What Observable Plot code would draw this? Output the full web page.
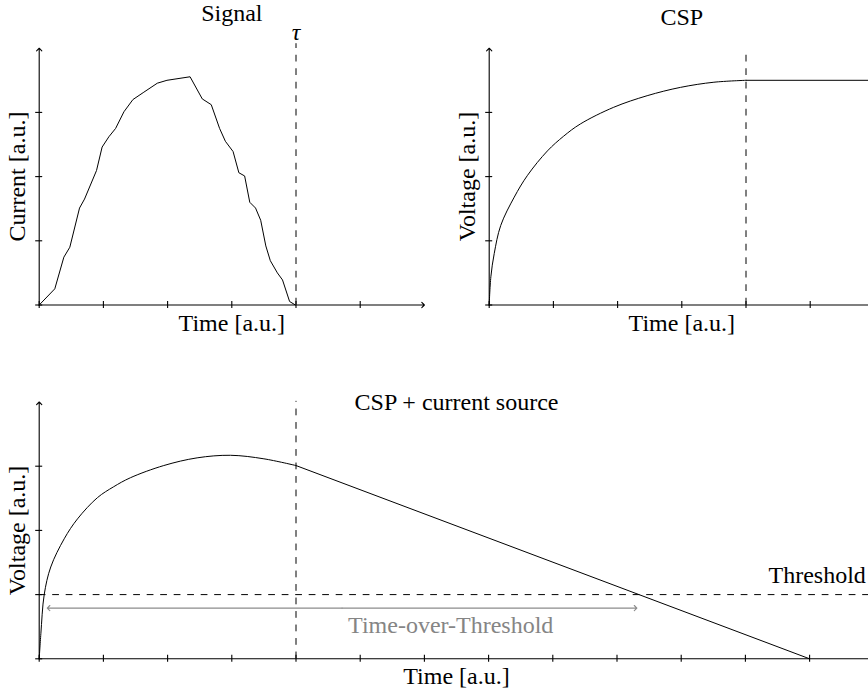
<!DOCTYPE html>
<html><head><meta charset="utf-8">
<script src="https://cdn.jsdelivr.net/npm/d3@7"></script>
<script src="https://cdn.jsdelivr.net/npm/@observablehq/plot@0.6"></script>
<style>
body{margin:0;background:#fff;}
#c{position:relative;width:868px;height:692px;overflow:hidden;background:#fff;}
</style></head><body><div id="c"></div>
<script>
// ---- data ----
const signalT = [0, 0.243, 0.384, 0.477, 0.628, 0.706, 0.893, 0.98, 1.085, 1.19, 1.32, 1.46, 1.63, 1.84, 1.99, 2.35, 2.54, 2.68, 2.81, 2.90, 3.02, 3.11, 3.20, 3.28, 3.37, 3.45, 3.53, 3.60, 3.71, 3.79, 3.90, 3.99];
const signalV = [0, 0.252, 0.745, 0.90, 1.51, 1.65, 2.095, 2.46, 2.62, 2.75, 3.01, 3.20, 3.315, 3.455, 3.50, 3.555, 3.21, 3.12, 2.75, 2.55, 2.39, 2.06, 2.01, 1.60, 1.51, 1.32, 0.92, 0.69, 0.50, 0.39, 0.055, 0];
const cspT = [0, 0.026, 0.078, 0.18, 0.39, 0.597, 0.907, 1.16, 1.42, 1.94, 2.46, 2.98, 3.50, 4.0];
const cspV = [0, 0.44, 0.80, 1.24, 1.68, 2.02, 2.40, 2.63, 2.82, 3.08, 3.26, 3.39, 3.47, 3.50];
const cspFlatT = [4.0, 6.0];
const cspFlatV = [3.50, 3.50];
const srcRiseT = [0, 0.026, 0.078, 0.18, 0.39, 0.597, 0.907, 1.16, 1.42, 1.94, 2.46, 2.98, 3.50, 4.0];
const srcRiseV = [0, 0.39, 1.0, 1.43, 1.87, 2.18, 2.51, 2.68, 2.82, 3.01, 3.13, 3.17, 3.115, 3.01];
const srcDecayT = [4.0, 12.0];
const srcDecayV = [3.01, 0];
const tau = 4;
const threshold = 1;
const totStart = 0.125, totEnd = 9.31, totLevel = 0.79;
const ticksX6 = [0, 1, 2, 3, 4, 5];
const ticksX13 = [0, 1, 2, 3, 4, 5, 6, 7, 8, 9, 10, 11, 12];
const ticksY = [0, 1, 2, 3];
const titles = ["Signal", "CSP", "CSP + current source"];
const xLabel = "Time [a.u.]";
const yLabels = ["Current [a.u.]", "Voltage [a.u.]", "Voltage [a.u.]"];

// ---- layout: one SVG, shared unit scales; panels shifted with dx / dy ----
const FONT = "serif";
const FS = 24;
const U = 64.2;
const P1 = {};
const P2 = {dx: 450};
const P3 = {dy: 353.8};
const zip = (a, b) => a.map((t, i) => ({t, v: b[i]}));
const arrowOpts = {headLength: 5, headAngle: 90, stroke: "black", strokeWidth: 1.1};

function axes(xMax, yMax, tx, off) {
  return [
    Plot.ruleX(tx, {x: d => d, y1: 0, y2: 0, insetTop: -3.5, insetBottom: -3.5, stroke: "black", strokeWidth: 1.1, ...off}),
    Plot.ruleY(ticksY, {y: d => d, x1: 0, x2: 0, insetLeft: -3.5, insetRight: -3.5, stroke: "black", strokeWidth: 1.1, ...off}),
    Plot.arrow([{x1: 0, y1: 0, x2: xMax, y2: 0}], {x1: "x1", y1: "y1", x2: "x2", y2: "y2", ...arrowOpts, ...off}),
    Plot.arrow([{x1: 0, y1: 0, x2: 0, y2: yMax}], {x1: "x1", y1: "y1", x2: "x2", y2: "y2", ...arrowOpts, ...off})
  ];
}
const txt = (s, x, y, off, extra = {}) => Plot.text([s], {x: () => x, y: () => y, text: d => d, fontSize: FS, fontFamily: FONT, fill: "black", lineAnchor: "bottom", ...off, ...extra});
const dashed = {stroke: "black", strokeWidth: 1, strokeDasharray: "6.75,6.75"};

const chart = Plot.plot({
  width: 868, height: 692, margin: 0,
  x: {domain: [0, 13], range: [38.7, 38.7 + 13 * U], axis: null},
  y: {domain: [0, 4], range: [304.5, 304.5 - 4 * U], axis: null},
  marks: [
    // Panel 1: Signal
    ...axes(6, 4, ticksX6, P1),
    Plot.ruleX([tau], {x: d => d, y1: 0, y2: 4.07, ...dashed, ...P1}),
    Plot.line(zip(signalT, signalV), {x: "t", y: "v", stroke: "black", strokeWidth: 1, ...P1}),
    txt(titles[0], 3, 4.416, P1),
    txt("τ", 4, 4.12, P1, {fontStyle: "italic"}),
    txt(xLabel, 3, -0.40, P1),
    txt(yLabels[0], -0.225, 2, P1, {rotate: -90}),

    // Panel 2: CSP
    ...axes(6, 4, ticksX6, P2),
    Plot.ruleX([tau], {x: d => d, y1: 0, y2: 3.92, ...dashed, ...P2}),
    Plot.line(zip(cspT, cspV), {x: "t", y: "v", stroke: "black", strokeWidth: 1, curve: "catmull-rom", ...P2}),
    Plot.line(zip(cspFlatT, cspFlatV), {x: "t", y: "v", stroke: "black", strokeWidth: 1, ...P2}),
    txt(titles[1], 3, 4.354, P2),
    txt(xLabel, 3, -0.40, P2),
    txt(yLabels[1], -0.225, 2, P2, {rotate: -90}),

    // Panel 3: CSP + current source
    ...axes(13, 4, ticksX13, P3),
    Plot.ruleX([tau], {x: d => d, y1: 0, y2: 4.01, ...dashed, ...P3}),
    Plot.ruleY([threshold], {y: d => d, x1: 0, x2: 13, ...dashed, ...P3}),
    Plot.line(zip(srcRiseT, srcRiseV), {x: "t", y: "v", stroke: "black", strokeWidth: 1, curve: "catmull-rom", ...P3}),
    Plot.line(zip(srcDecayT, srcDecayV), {x: "t", y: "v", stroke: "black", strokeWidth: 1, ...P3}),
    Plot.arrow([{a: (totStart + totEnd) / 2, b: totStart}, {a: (totStart + totEnd) / 2, b: totEnd}],
      {x1: "a", x2: "b", y1: () => totLevel, y2: () => totLevel, headLength: 5, headAngle: 90, stroke: "#8c8c8c", strokeWidth: 1.1, ...P3}),
    txt(titles[2], 6.5, 3.883, P3),
    txt("Threshold", 11.36, 1.184, P3, {textAnchor: "start"}),
    txt("Time-over-Threshold", 6.41, 0.399, P3, {fill: "#858585"}),
    txt(xLabel, 6.5, -0.40, P3),
    txt(yLabels[2], -0.225, 2, P3, {rotate: -90})
  ]
});
chart.setAttribute("font-family", FONT);
document.getElementById("c").appendChild(chart);
</script></body></html>
